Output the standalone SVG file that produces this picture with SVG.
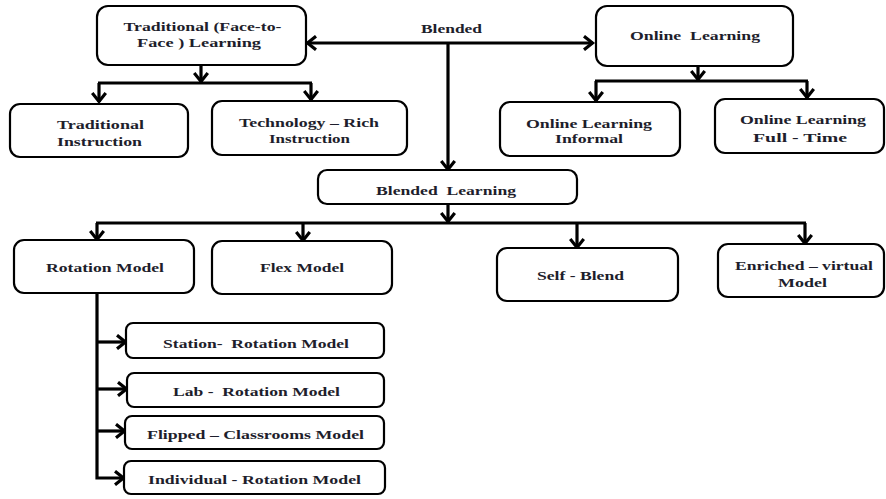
<svg xmlns="http://www.w3.org/2000/svg" width="886" height="499" viewBox="0 0 886 499">
<defs>
<style>
.box{fill:#fff;stroke:#000;stroke-width:2.2}
.t{font-family:"Liberation Serif","Times New Roman",serif;font-weight:bold;font-size:13.5px;fill:#1e1e2c;text-anchor:middle;white-space:pre}
.c{fill:none;stroke:#000;stroke-width:3.2}
</style>
<marker id="ah" viewBox="0 0 14 16" markerWidth="14" markerHeight="16" refX="11.5" refY="8" orient="auto-start-reverse" markerUnits="userSpaceOnUse">
<path d="M2.5,1.2 L11,8 L2.5,14.8" fill="none" stroke="#000" stroke-width="3.2"/>
</marker>
</defs>
<rect width="886" height="499" fill="#fff"/>

<g id="connectors">
<path class="c" d="M307,43 H593" marker-start="url(#ah)" marker-end="url(#ah)"/>
<path class="c" d="M448,43 V170" marker-end="url(#ah)"/>
<path class="c" d="M201,65 V82" marker-end="url(#ah)"/>
<path class="c" d="M98,83 H312"/>
<path class="c" d="M99,83 V102" marker-end="url(#ah)"/>
<path class="c" d="M311,83 V100" marker-end="url(#ah)"/>
<path class="c" d="M698,66 V80" marker-end="url(#ah)"/>
<path class="c" d="M595,81 H808"/>
<path class="c" d="M596,81 V101" marker-end="url(#ah)"/>
<path class="c" d="M807,81 V98" marker-end="url(#ah)"/>
<path class="c" d="M448,204 V222" marker-end="url(#ah)"/>
<path class="c" d="M96,223 H806"/>
<path class="c" d="M97,223 V240" marker-end="url(#ah)"/>
<path class="c" d="M303,223 V241" marker-end="url(#ah)"/>
<path class="c" d="M577,223 V248" marker-end="url(#ah)"/>
<path class="c" d="M805,223 V244" marker-end="url(#ah)"/>
<path class="c" d="M97,293 V478 H124" marker-end="url(#ah)"/>
<path class="c" d="M97,342 H126" marker-end="url(#ah)"/>
<path class="c" d="M97,389 H127" marker-end="url(#ah)"/>
<path class="c" d="M97,431 H125" marker-end="url(#ah)"/>
</g>

<g id="label-blended">
<text class="t" x="451.5" y="32.5" textLength="61" lengthAdjust="spacingAndGlyphs">Blended</text>
</g>

<g id="traditional">
<rect class="box" x="97" y="6" width="209" height="59" rx="11"/>
<text class="t" x="202.5" y="31" textLength="158" lengthAdjust="spacingAndGlyphs">Traditional (Face-to-</text>
<text class="t" x="199" y="47" textLength="124" lengthAdjust="spacingAndGlyphs">Face ) Learning</text>
</g>

<g id="traditional-instruction">
<rect class="box" x="10" y="104" width="178" height="53" rx="10"/>
<text class="t" x="100.5" y="128.5" textLength="87" lengthAdjust="spacingAndGlyphs">Traditional</text>
<text class="t" x="99.5" y="145.5" textLength="85" lengthAdjust="spacingAndGlyphs">Instruction</text>
</g>

<g id="technology-rich">
<rect class="box" x="212" y="101" width="195" height="54" rx="10"/>
<text class="t" x="309" y="126.5" textLength="140" lengthAdjust="spacingAndGlyphs">Technology – Rich</text>
<text class="t" x="309.5" y="142.5" textLength="81" lengthAdjust="spacingAndGlyphs">Instruction</text>
</g>

<g id="online">
<rect class="box" x="596" y="6" width="197" height="60" rx="11"/>
<text class="t" x="695" y="39.5" textLength="130" lengthAdjust="spacingAndGlyphs">Online  Learning</text>
</g>

<g id="online-informal">
<rect class="box" x="500" y="102" width="180" height="54" rx="10"/>
<text class="t" x="589" y="127.5" textLength="126" lengthAdjust="spacingAndGlyphs">Online Learning</text>
<text class="t" x="589" y="142.5" textLength="68" lengthAdjust="spacingAndGlyphs">Informal</text>
</g>

<g id="online-fulltime">
<rect class="box" x="715" y="99" width="169" height="54" rx="10"/>
<text class="t" x="803" y="123.5" textLength="126" lengthAdjust="spacingAndGlyphs">Online Learning</text>
<text class="t" x="800" y="141.5" textLength="94" lengthAdjust="spacingAndGlyphs">Full - Time</text>
</g>

<g id="blended-learning">
<rect class="box" x="318" y="170" width="259" height="34" rx="9"/>
<text class="t" x="446" y="194.5" textLength="140" lengthAdjust="spacingAndGlyphs">Blended  Learning</text>
</g>

<g id="rotation">
<rect class="box" x="14" y="240" width="180" height="53" rx="10"/>
<text class="t" x="105" y="271.5" textLength="118" lengthAdjust="spacingAndGlyphs">Rotation Model</text>
</g>

<g id="flex">
<rect class="box" x="212" y="241" width="180" height="53" rx="10"/>
<text class="t" x="302" y="271.5" textLength="84" lengthAdjust="spacingAndGlyphs">Flex Model</text>
</g>

<g id="self-blend">
<rect class="box" x="497" y="248" width="181" height="53" rx="10"/>
<text class="t" x="580.5" y="279.5" textLength="87" lengthAdjust="spacingAndGlyphs">Self - Blend</text>
</g>

<g id="enriched">
<rect class="box" x="718" y="244" width="166" height="53" rx="10"/>
<text class="t" x="804" y="269.5" textLength="138" lengthAdjust="spacingAndGlyphs">Enriched – virtual</text>
<text class="t" x="802.5" y="286.5" textLength="49" lengthAdjust="spacingAndGlyphs">Model</text>
</g>

<g id="station">
<rect class="box" x="126" y="323" width="258" height="35" rx="7"/>
<text class="t" x="256" y="347.5" textLength="186" lengthAdjust="spacingAndGlyphs">Station-  Rotation Model</text>
</g>

<g id="lab">
<rect class="box" x="127" y="373" width="257" height="34" rx="7"/>
<text class="t" x="256.5" y="396" textLength="167" lengthAdjust="spacingAndGlyphs">Lab -  Rotation Model</text>
</g>

<g id="flipped">
<rect class="box" x="125" y="416" width="259" height="33" rx="7"/>
<text class="t" x="255.5" y="438.5" textLength="217" lengthAdjust="spacingAndGlyphs">Flipped – Classrooms Model</text>
</g>

<g id="individual">
<rect class="box" x="124" y="461" width="261" height="33" rx="7"/>
<text class="t" x="254.5" y="483.5" textLength="213" lengthAdjust="spacingAndGlyphs">Individual - Rotation Model</text>
</g>
</svg>
